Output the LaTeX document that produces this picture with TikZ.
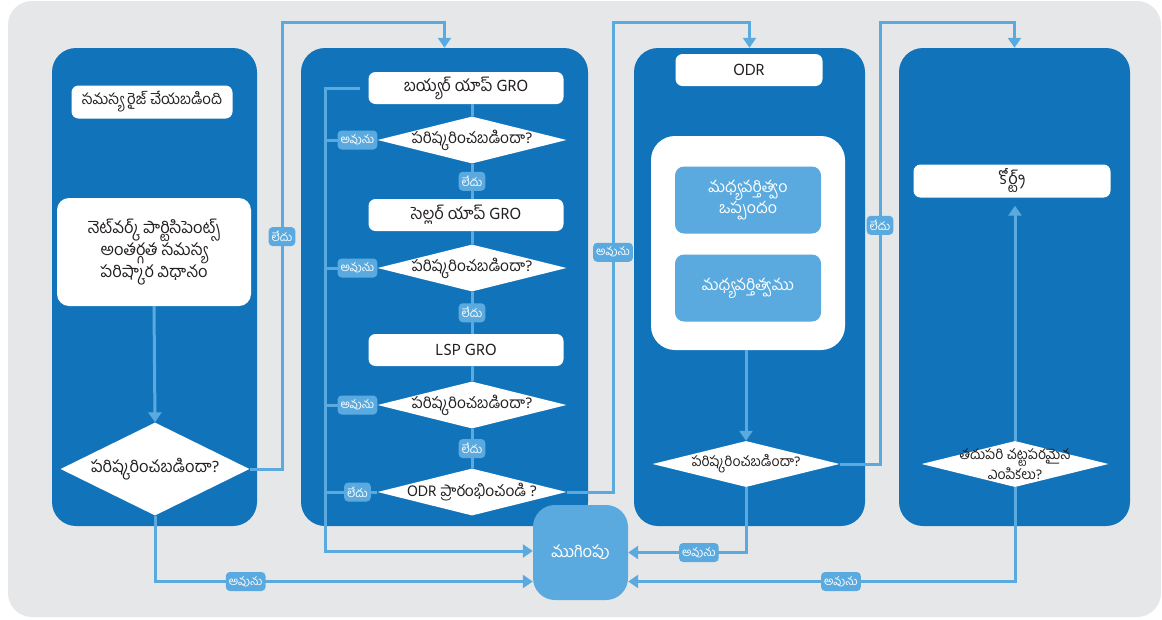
\documentclass[tikz,border=0pt]{standalone}
\usepackage{fontspec}
\setmainfont[Script=Telugu]{Hind Guntur}
\usetikzlibrary{arrows.meta,shapes.geometric,positioning}

\definecolor{lanebl}{HTML}{1174BB}
\definecolor{lightbl}{HTML}{5AAAE0}
\definecolor{bggray}{HTML}{E6E7E9}
\definecolor{ink}{HTML}{231F20}

\begin{document}
\begin{tikzpicture}[x=1pt,y=-1pt,>={Triangle[width=13pt,length=10pt]},
                    line join=miter]
  \tikzstyle{lane}=[fill=lanebl,rounded corners=24pt,inner sep=0pt]
  \tikzstyle{card}=[fill=white,text=ink,rounded corners=7pt,align=center,
                    inner sep=0pt,font=\fontsize{16.5}{22}\selectfont]
  \tikzstyle{softcard}=[fill=lightbl,text=white,rounded corners=9pt,align=center,
                    inner sep=0pt,minimum width=146,minimum height=67,
                    font=\fontsize{16}{21}\selectfont]
  \tikzstyle{query}=[diamond,fill=white,text=ink,align=center,shape aspect=4,
                    inner xsep=-25pt,inner ysep=-8pt,
                    font=\fontsize{15.5}{17}\selectfont]
  \tikzstyle{tag}=[fill=lightbl,text=white,rounded corners=4pt,inner xsep=3pt,
                    inner ysep=2pt,minimum height=19pt,
                    font=\fontsize{11.5}{13}\selectfont]
  \tikzstyle{link}=[draw=lightbl,line width=3pt]
  \tikzstyle{flow}=[link,->]

  \useasboundingbox (0,0) rectangle (1162,619);
  \fill[bggray,rounded corners=24pt] (8,1) rectangle (1161,617);

  % swimlanes
  \node[lane,minimum width=205,minimum height=478] (l1) at (154.5,287) {};
  \node[lane,minimum width=287,minimum height=478] (l2) at (444.5,287) {};
  \node[lane,minimum width=231,minimum height=478] (l3) at (749.5,287) {};
  \node[lane,minimum width=231,minimum height=478] (l4) at (1014.5,287) {};

  % lane 1
  \node[card,minimum width=161,minimum height=33,font=\fontsize{15}{20}\selectfont] (raise) at (152,102) {సమస్య రైజ్ చేయబడింది};
  \node[card,minimum width=194,minimum height=108,rounded corners=12pt] (net) at (154,252)
       {నెట్‌వర్క్ పార్టిసిపెంట్స్\\అంతర్గత సమస్య\\పరిష్కార విధానం};
  \node[query,shape aspect=2,minimum width=189,minimum height=93,
        font=\fontsize{16.5}{18}\selectfont] (q0) at (155,469) {పరిష్కరించబడిందా?};

  % lane 2
  \node[card,minimum width=195,minimum height=32] (buyer)  at (466,88)  {బయ్యర్ యాప్ GRO};
  \node[query,minimum width=189,minimum height=47] (q1)    at (472,140) {పరిష్కరించబడిందా?};
  \node[card,minimum width=195,minimum height=32] (seller) at (466,215) {సెల్లర్ యాప్ GRO};
  \node[query,minimum width=189,minimum height=47] (q2)    at (472,268) {పరిష్కరించబడిందా?};
  \node[card,minimum width=195,minimum height=32] (lsp)    at (466,350) {LSP GRO};
  \node[query,minimum width=189,minimum height=47] (q3)    at (472,405) {పరిష్కరించబడిందా?};
  \node[query,minimum width=189,minimum height=47] (q4)    at (472,492) {ODR ప్రారంభించండి ?};

  % lane 3
  \node[card,minimum width=147,minimum height=32] (odr) at (749,70) {ODR};
  \node[card,minimum width=194,minimum height=214,rounded corners=24pt] (panel) at (748,243) {};
  \node[softcard] (med1) at (748,200) {మధ్యవర్తిత్వం\\ఒప్పందం};
  \node[softcard] (med2) at (748,288) {మధ్యవర్తిత్వము};
  \node[query,minimum width=187,minimum height=46,font=\fontsize{14}{16}\selectfont] (q5) at (746,464) {పరిష్కరించబడిందా?};

  % lane 4
  \node[card,minimum width=197,minimum height=33] (court) at (1012,181) {కోర్ట్స్};
  \node[query,minimum width=187,minimum height=46,font=\fontsize{14}{15}\selectfont] (q6) at (1015,464)
       {తదుపరి చట్టపరమైన\\ఎంపికలు?};

  \node[fill=lightbl,text=white,rounded corners=22pt,minimum size=95,
        font=\fontsize{16.5}{18}\selectfont] (fin) at (580.5,552.5) {ముగింపు};
  \coordinate (rail) at (325,551);
  \coordinate (hop1) at (282,22);
  \coordinate (hop2) at (613,22);
  \coordinate (hop3) at (880,22);

  % connectors
  \draw[flow] (net.south) -- (q0.north);
  \draw[flow] (q0.east) -| node[tag,pos=0.76] {లేదు} (hop1) -| (l2.north);
  \draw[flow] (q0.south) |- node[tag,pos=0.62] {అవును} ([yshift=-29pt]fin.west);

  \draw[link] (q1.north |- buyer.south) -- (q1.north);
  \draw[link] (q1.south) -- node[tag] {లేదు} (q1.south |- seller.north);
  \draw[link] (q2.north |- seller.south) -- (q2.north);
  \draw[link] (q2.south) -- node[tag] {లేదు} (q2.south |- lsp.north);
  \draw[link] (q3.north |- lsp.south) -- (q3.north);
  \draw[link] (q3.south) -- node[tag] {లేదు} (q4.north);
  \draw[flow] ([xshift=-8pt]buyer.west) -| (rail) -- (fin.west |- rail);
  \draw[link] (q1.west) -- node[tag,pos=0.38] {అవును} (q1.west -| rail);
  \draw[link] (q2.west) -- node[tag,pos=0.38] {అవును} (q2.west -| rail);
  \draw[link] (q3.west) -- node[tag,pos=0.38] {అవును} (q3.west -| rail);
  \draw[link] (q4.west) -- node[tag,pos=0.38] {లేదు} (q4.west -| rail);
  \draw[flow] (q4.east) -| node[tag,pos=0.755] {అవును} (hop2) -| (l3.north);

  \draw[flow] (q5.north |- panel.south) -- (q5.north);
  \draw[flow] (q5.south) |- node[tag,pos=0.7] {అవును} (fin.east);
  \draw[flow] (q5.east) -| node[tag,pos=0.77] {లేదు} (hop3) -| (l4.north);

  \draw[flow,shorten >=8pt] (q6.north) -- (q6.north |- court.south);
  \draw[flow] (q6.south) |- node[tag,pos=0.725] {అవును} ([yshift=-29pt]fin.east);
\end{tikzpicture}
\end{document}
